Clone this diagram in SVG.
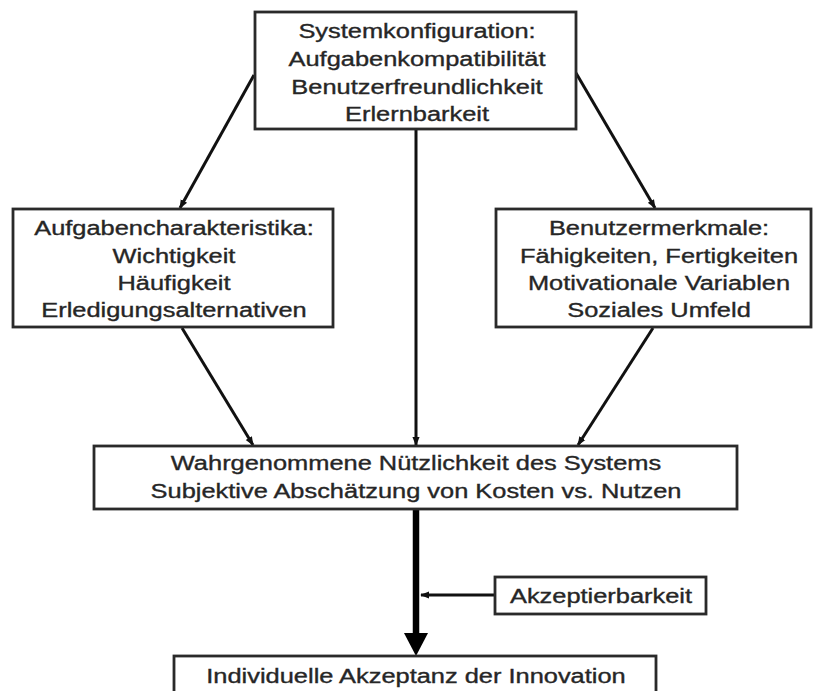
<svg xmlns="http://www.w3.org/2000/svg" width="813" height="691" viewBox="0 0 813 691">
  <defs>
    <style>
      .box { fill: #ffffff; stroke: #2a2a2a; stroke-width: 2.8; }
      .lbl { font-family: "Liberation Sans", Arial, sans-serif; font-size: 20px; fill: #262626; stroke: #262626; stroke-width: 0.35; text-anchor: middle; }
      .edge { stroke: #111111; stroke-width: 3; fill: none; marker-end: url(#tip); }
      .main { stroke: #000000; stroke-width: 6.5; fill: none; }
    </style>
    <marker id="tip" viewBox="0 0 10 10" refX="9" refY="5" markerUnits="userSpaceOnUse" markerWidth="9" markerHeight="9" orient="auto">
      <path d="M0,1 L10,5 L0,9 Z" fill="#111111"/>
    </marker>
  </defs>
  <rect width="813" height="691" fill="#ffffff"/>

  <!-- connectors -->
  <g id="connectors">
    <line class="edge" x1="254" y1="75" x2="180" y2="208"/>
    <line class="edge" x1="576" y1="73" x2="655" y2="208"/>
    <line class="edge" x1="416" y1="129" x2="416" y2="445"/>
    <line class="edge" x1="182" y1="328" x2="253" y2="445"/>
    <line class="edge" x1="653" y1="328" x2="578" y2="445"/>
    <line class="main" x1="416" y1="509" x2="416" y2="636"/>
    <polygon points="404,633 428,633 416,656" fill="#000000"/>
    <line class="edge" x1="495" y1="595" x2="421" y2="595"/>
  </g>

  <!-- nodes -->
  <g id="systemkonfiguration">
    <rect class="box" x="255" y="12" width="321" height="117"/>
    <g transform="translate(417 0) scale(1.27 1)">
      <text class="lbl"><tspan x="0" y="38">Systemkonfiguration:</tspan><tspan x="0" y="66">Aufgabenkompatibilität</tspan><tspan x="0" y="94">Benutzerfreundlichkeit</tspan><tspan x="0" y="121">Erlernbarkeit</tspan></text>
    </g>
  </g>

  <g id="aufgabencharakteristika">
    <rect class="box" x="13" y="209" width="320" height="118"/>
    <g transform="translate(174 0) scale(1.27 1)">
      <text class="lbl"><tspan x="0" y="235">Aufgabencharakteristika:</tspan><tspan x="0" y="263">Wichtigkeit</tspan><tspan x="0" y="290">Häufigkeit</tspan><tspan x="0" y="317">Erledigungsalternativen</tspan></text>
    </g>
  </g>

  <g id="benutzermerkmale">
    <rect class="box" x="496" y="209" width="315" height="118"/>
    <g transform="translate(659 0) scale(1.27 1)">
      <text class="lbl"><tspan x="0" y="235">Benutzermerkmale:</tspan><tspan x="0" y="263">Fähigkeiten, Fertigkeiten</tspan><tspan x="0" y="290">Motivationale Variablen</tspan><tspan x="0" y="317">Soziales Umfeld</tspan></text>
    </g>
  </g>

  <g id="nuetzlichkeit">
    <rect class="box" x="94" y="446" width="643" height="63"/>
    <g transform="translate(416 0) scale(1.27 1)">
      <text class="lbl"><tspan x="0" y="470">Wahrgenommene Nützlichkeit des Systems</tspan><tspan x="0" y="498">Subjektive Abschätzung von Kosten vs. Nutzen</tspan></text>
    </g>
  </g>

  <g id="akzeptierbarkeit">
    <rect class="box" x="495" y="577" width="211" height="37"/>
    <g transform="translate(601 0) scale(1.27 1)">
      <text class="lbl" x="0" y="603">Akzeptierbarkeit</text>
    </g>
  </g>

  <g id="akzeptanz">
    <rect class="box" x="174" y="656" width="482" height="50"/>
    <g transform="translate(416 0) scale(1.27 1)">
      <text class="lbl" x="0" y="683">Individuelle Akzeptanz der Innovation</text>
    </g>
  </g>
</svg>
